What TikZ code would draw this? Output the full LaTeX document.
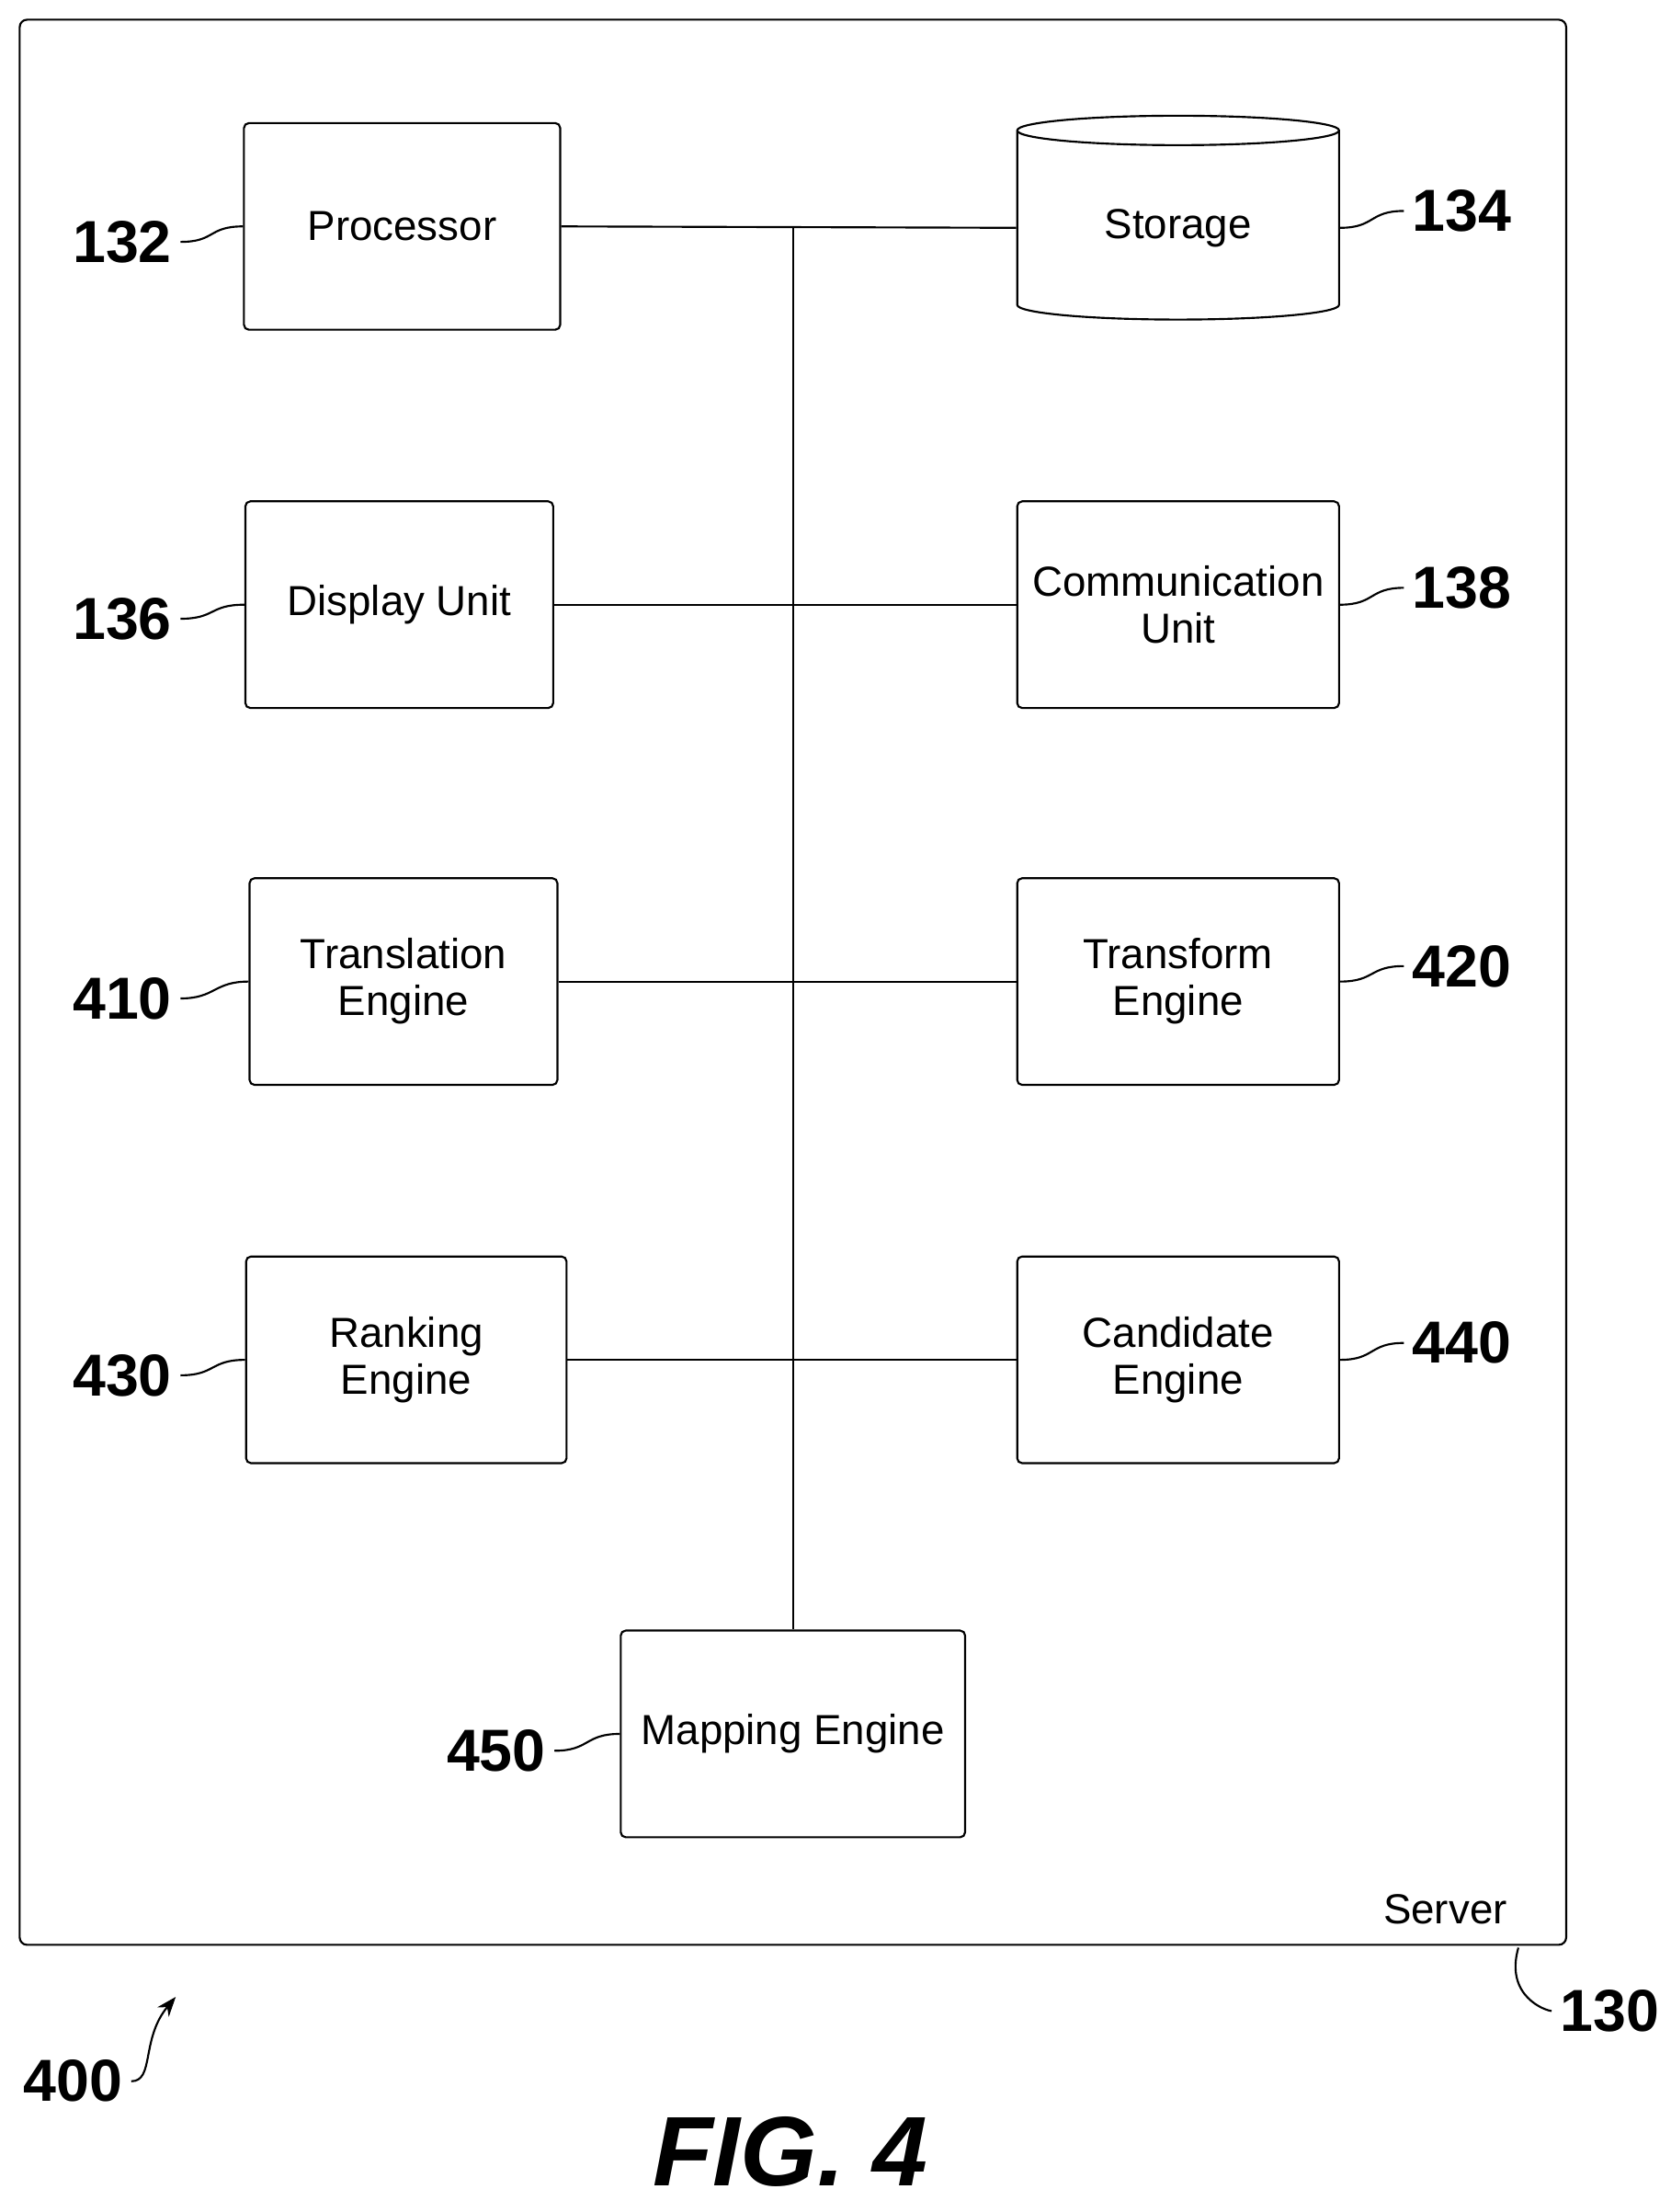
\documentclass[tikz,border=0pt]{standalone}
\usepackage{fontspec}
\setmainfont{Liberation Sans}
\usetikzlibrary{shapes.geometric,arrows.meta}
\begin{document}
\begin{tikzpicture}[x=0.02cm,y=-0.02cm,
  unit/.style={draw, thick, rounded corners=2pt, align=center,
    minimum width=4.5cm, minimum height=2.94cm, font=\fontsize{17}{19}\selectfont},
  refnum/.style={font=\bfseries\fontsize{24}{26}\selectfont},
  lead/.style={thick}]
\useasboundingbox (0,0) rectangle (1188,1573);
\draw[thick, rounded corners=3pt] (14,14) rectangle (1114,1383);

% units
\node[unit] (proc) at (286,161) {Processor};
\node[draw, thick, cylinder, shape border rotate=90, aspect=0.18,
  minimum width=4.58cm, minimum height=2.9cm,
  font=\fontsize{17}{19}\selectfont] (stor) at (838,162) {Storage};
\node[unit, minimum width=4.38cm] (disp) at (284,430) {Display Unit};
\node[unit, minimum width=4.58cm] (comm) at (838,430) {Communication\\Unit};
\node[unit, minimum width=4.38cm] (trans) at (287,698) {Translation\\Engine};
\node[unit, minimum width=4.58cm] (xform) at (838,698) {Transform\\Engine};
\node[unit, minimum width=4.56cm] (rank) at (289,967) {Ranking\\Engine};
\node[unit, minimum width=4.58cm] (cand) at (838,967) {Candidate\\Engine};
\node[unit, minimum width=4.9cm] (map) at (564,1233) {Mapping Engine};

% bus
\coordinate (top) at (564,161);
\draw[thick] (top) -- (map.north);
\draw[thick] (proc.east) -- (stor.west);
\draw[thick] (disp.east) -- (comm.west);
\draw[thick] (trans.east) -- (xform.west);
\draw[thick] (rank.east) -- (cand.west);

% reference numbers
\node[refnum] (n132) at (87,172) {132};
\node[refnum] (n134) at (1040,150) {134};
\node[refnum] (n136) at (87,440) {136};
\node[refnum] (n138) at (1040,418) {138};
\node[refnum] (n410) at (87,710) {410};
\node[refnum] (n420) at (1040,687) {420};
\node[refnum] (n430) at (87,978) {430};
\node[refnum] (n440) at (1040,955) {440};
\node[refnum] (n450) at (353,1245) {450};
\foreach \a/\b in {n132/proc, n136/disp, n410/trans, n430/rank, n450/map}
  \draw[lead] (\a.east) .. controls +(25,0) and +(-25,0) .. (\b.west);
\foreach \a/\b in {n134/stor, n138/comm, n420/xform, n440/cand}
  \draw[lead] (\a.west) .. controls +(-25,0) and +(25,0) .. (\b.east);

\node[font=\fontsize{17}{19}\selectfont] (srv) at (1028,1358) {Server};
\node[refnum] (n130) at (1145,1430) {130};
\coordinate (frm) at (1080,1385);
\draw[lead] (frm) .. controls (1070,1420) and (1100,1430) .. (n130.west);
\node[refnum] (n400) at (52,1480) {400};
\coordinate (tip) at (125,1420);
\draw[lead, -{Stealth[length=8pt]}] (n400.east) .. controls (110,1480) and (100,1450) .. (tip);

\node[font=\bfseries\itshape\fontsize{40}{44}\selectfont] (fig) at (562,1530) {FIG. 4};
\end{tikzpicture}
\end{document}
